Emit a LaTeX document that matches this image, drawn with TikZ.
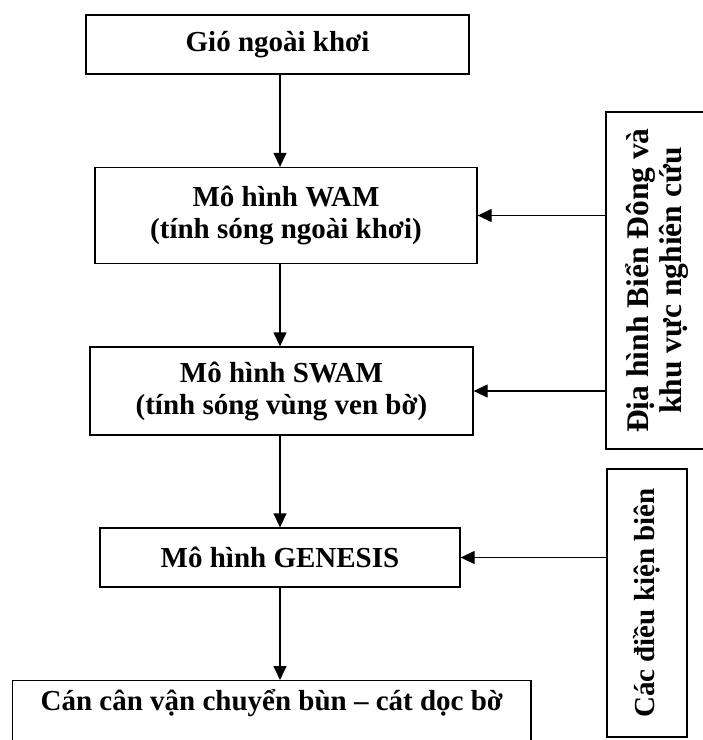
\documentclass[tikz,border=0pt]{standalone}
\usepackage{fontspec}
\setmainfont{Liberation Serif}
\usepackage{graphicx}
\usetikzlibrary{arrows.meta}
\begin{document}
\begin{tikzpicture}[x=1pt,y=-1pt,
  box/.style={draw, line width=1.3pt, inner sep=0pt, align=center,
    font=\fontsize{29}{32}\selectfont\bfseries},
  conn/.style={line width=1.3pt, -{Triangle[length=14pt,width=13pt]}}]
\useasboundingbox (0,0) rectangle (703,740);
\clip (0,0) rectangle (703,740);
\coordinate (axis) at (280,0);
\node[box, line width=2.3pt, minimum width=383pt, minimum height=59pt] (B1) at (277.5,44.5) {Gió ngoài khơi};
\node[box, minimum width=382pt, minimum height=96pt] (B2) at (286,215.5) {Mô hình WAM\\(tính sóng ngoài khơi)};
\node[box, minimum width=383pt, minimum height=88pt] (B3) at (281.5,391) {Mô hình SWAM\\(tính sóng vùng ven bờ)};
\node[box, minimum width=360pt, minimum height=59pt] (B4) at (280,557.5) {Mô hình GENESIS};
\node[box, inner xsep=28pt, text height=20pt, text depth=30pt, minimum height=70pt, anchor=north west] (B5) at (12,680) {Cán cân vận chuyển bùn – cát dọc bờ};
\node[box, minimum width=104pt, minimum height=337pt] (R1) at (658,280.5) {\rotatebox{90}{\fontsize{31.5}{35}\selectfont\begin{tabular}{@{}c@{}}Địa hình Biển Đông và\\[-2pt] khu vực nghiên cứu\end{tabular}}};
\node[box, minimum width=80pt, minimum height=268pt] (R2) at (647,603) {\rotatebox{90}{Các điều kiện biên}};
\draw[conn] (B1.south -| axis) -- (B2.north -| axis);
\draw[conn] (B2.south -| axis) -- (B3.north -| axis);
\draw[conn] (B3.south -| axis) -- (B4.north -| axis);
\draw[conn] (B4.south -| axis) -- (B5.north -| axis);
\draw[conn] (R1.west |- B2.east) -- (B2.east);
\draw[conn] (R1.west |- B3.east) -- (B3.east);
\draw[conn] (R2.west |- B4.east) -- (B4.east);
\end{tikzpicture}
\end{document}
